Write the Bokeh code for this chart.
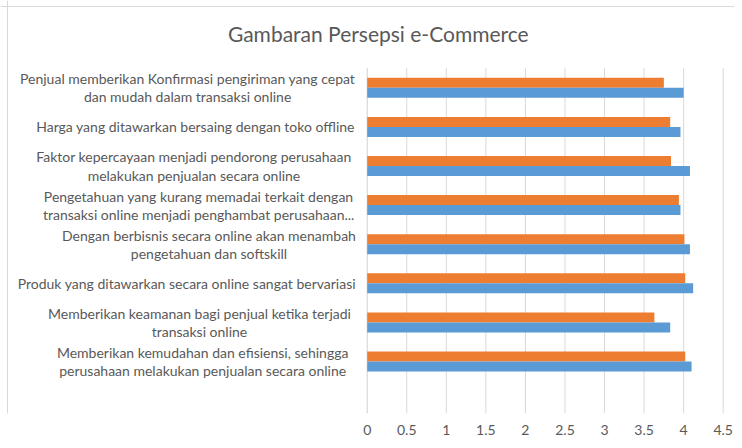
from bokeh.plotting import figure
from bokeh.models import Range1d, FixedTicker, ColumnDataSource, Span
from bokeh.core.properties import value
from bokeh.embed import file_html
from bokeh.resources import INLINE

# ---- data ----
categories = [
    "Penjual memberikan Konfirmasi pengiriman yang cepat\ndan mudah dalam transaksi online",
    "Harga yang ditawarkan bersaing dengan toko offline",
    "Faktor kepercayaan menjadi pendorong perusahaan\nmelakukan penjualan secara online",
    "Pengetahuan yang kurang memadai terkait dengan\ntransaksi online menjadi penghambat perusahaan...",
    "Dengan berbisnis secara online akan menambah\npengetahuan dan softskill",
    "Produk yang ditawarkan secara online sangat bervariasi",
    "Memberikan keamanan bagi penjual ketika terjadi\ntransaksi online",
    "Memberikan kemudahan dan efisiensi, sehingga\nperusahaan melakukan penjualan secara online",
]
series_orange = [3.75, 3.83, 3.84, 3.94, 4.01, 4.02, 3.63, 4.02]
series_blue = [4.00, 3.96, 4.08, 3.96, 4.08, 4.12, 3.83, 4.10]
tick_values = [0, 0.5, 1, 1.5, 2, 2.5, 3, 3.5, 4, 4.5]
tick_labels = ["0", "0.5", "1", "1.5", "2", "2.5", "3", "3.5", "4", "4.5"]
title_text = "Gambaran Persepsi e-Commerce"

# ---- layout / style ----
ORANGE = "#ED7D31"
BLUE = "#5B9BD5"
TEXT = "#595959"
GRID = "#D9D9D9"
FONT = "Lato"
W, H = 734, 440
n = len(categories)
bar_h = 0.256
x_max = 4.5
px_per_x = 356 / x_max          # plot area 356 px wide
px_per_slot = 39.1
plot_left_px = 366.7
frame_bottom_px = 413
y_low = -0.33                   # data value at the bottom of the plot area
plot_top = n + 0.51             # data value at the top of the plot area
# horizontal centre (in data units) of each category label block
label_centre = [-2.27, -2.17, -2.19, -2.13, -2.0, -2.28, -2.12, -2.08]

ypos = [n - i for i in range(n)]

x_range = Range1d(-plot_left_px / px_per_x, (W - plot_left_px) / px_per_x)
y_range = Range1d(y_low, y_low + frame_bottom_px / px_per_slot)

p = figure(width=W, height=H, output_backend="svg", toolbar_location=None,
           x_range=x_range, y_range=y_range,
           min_border_left=0, min_border_right=0, min_border_top=0,
           min_border_bottom=H - frame_bottom_px)
p.outline_line_color = None
p.background_fill_color = "white"
p.border_fill_color = "white"
p.yaxis.visible = False
p.xgrid.visible = False
p.ygrid.visible = False

# chart border (left and top edges)
p.add_layout(Span(location=x_range.start + 7 / px_per_x, dimension="height",
                  line_color=GRID, line_width=1))
p.add_layout(Span(location=y_range.end - 6 / px_per_slot, dimension="width",
                  line_color=GRID, line_width=1))

# gridlines within the plot area and the category axis line
p.segment(x0=tick_values[1:], y0=y_low, x1=tick_values[1:], y1=plot_top,
          line_color=GRID, line_width=1)
p.segment(x0=[0], y0=y_low, x1=[0], y1=plot_top, line_color="#D0D0D0", line_width=1)

src = ColumnDataSource(dict(
    y_orange=[y + bar_h / 2 for y in ypos],
    y_blue=[y - bar_h / 2 for y in ypos],
    orange=series_orange,
    blue=series_blue,
    cat=categories,
    y=ypos,
    lx=label_centre,
))
p.hbar(y="y_orange", left=0, right="orange", height=bar_h, source=src,
       fill_color=ORANGE, line_color=None)
p.hbar(y="y_blue", left=0, right="blue", height=bar_h, source=src,
       fill_color=BLUE, line_color=None)

p.text(x="lx", y="y", text="cat", source=src, text_align="center",
       text_baseline="middle", text_font=value(FONT), text_font_size="14px",
       text_color=TEXT, text_line_height=1.07)

p.text(x=[0.14], y=[plot_top + 34 / px_per_slot], text=[title_text],
       text_align="center", text_baseline="middle", text_font=value(FONT),
       text_font_size="21px", text_color=TEXT)

# x axis
p.xaxis.ticker = FixedTicker(ticks=tick_values)
p.xaxis.major_label_overrides = {float(v): l for v, l in zip(tick_values, tick_labels)}
p.xaxis.axis_line_color = None
p.xaxis.major_tick_line_color = None
p.xaxis.minor_tick_line_color = None
p.xaxis.major_tick_out = 0
p.xaxis.major_tick_in = 0
p.xaxis.major_label_standoff = 11
p.xaxis.major_label_text_font = FONT
p.xaxis.major_label_text_font_size = "14px"
p.xaxis.major_label_text_color = TEXT

open("out.html", "w").write(file_html(p, INLINE))
